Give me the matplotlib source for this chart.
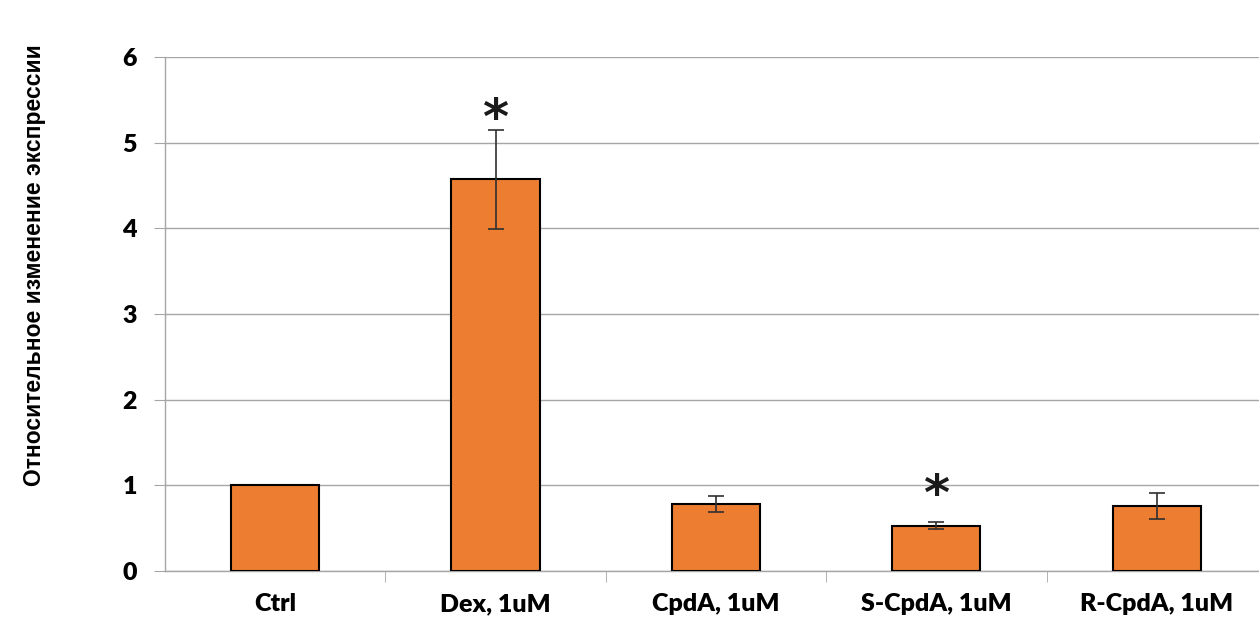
import numpy as np
import matplotlib.pyplot as plt
from matplotlib.ticker import FixedLocator

# Данные
groups = ["Ctrl", "Dex, 1uM", "CpdA, 1uM", "S-CpdA, 1uM", "R-CpdA, 1uM"]
means = [1.0, 4.57, 0.78, 0.53, 0.76]
errs = [0.0, 0.58, 0.09, 0.045, 0.155]
# высота звёздочек значимости (None — нет)
stars = [None, 5.26, None, 0.88, None]

fig = plt.figure(figsize=(12.59, 6.19), dpi=100)
ax = fig.add_axes([0.131, 0.0775, 0.8753, 0.8305])

x = np.arange(len(groups))
ax.bar(x, means, width=0.40, color="#ED7D31", edgecolor="black", linewidth=1.5, zorder=3)
ax.errorbar(x[1:], means[1:], yerr=errs[1:], fmt="none", ecolor="#303030",
            elinewidth=1.2, capsize=6, capthick=1.2, zorder=4)

for xi, s in zip(x, stars):
    if s is not None:
        ax.text(xi, s, "*", ha="center", va="center", fontsize=36,
                fontfamily="DejaVu Sans", fontweight="bold", color="#1a1a1a", zorder=5)

ax.set_xlim(-0.5, len(groups) - 0.5)
ax.set_ylim(0, 6)
ax.set_yticks(range(7))
ax.yaxis.grid(True, color="#a6a6a6", linewidth=1.0, zorder=0)
ax.set_axisbelow(True)

# подписи категорий по центру, засечки — на границах
ax.set_xticks(x)
ax.set_xticklabels(groups)
ax.xaxis.set_minor_locator(FixedLocator(np.arange(0.5, len(groups) - 0.5, 1)))
ax.tick_params(axis="x", which="major", length=0, pad=16)
ax.tick_params(axis="x", which="minor", length=8, color="#a6a6a6", direction="out")
ax.tick_params(axis="y", length=8, color="#a6a6a6", pad=12)

for lab in ax.get_xticklabels() + ax.get_yticklabels():
    lab.set_fontfamily("Lato")
    lab.set_fontweight("heavy")
    lab.set_fontsize(18)

for side in ["top", "right"]:
    ax.spines[side].set_visible(False)
for side in ["left", "bottom"]:
    ax.spines[side].set_color("#a6a6a6")
    ax.spines[side].set_linewidth(1.0)

ax.set_ylabel("Относительное изменение экспрессии", fontfamily="Liberation Sans",
              fontweight="bold", fontsize=16.5, labelpad=0)
ax.yaxis.set_label_coords(-0.108, 0.595)

fig.savefig("out.png", dpi=100)
